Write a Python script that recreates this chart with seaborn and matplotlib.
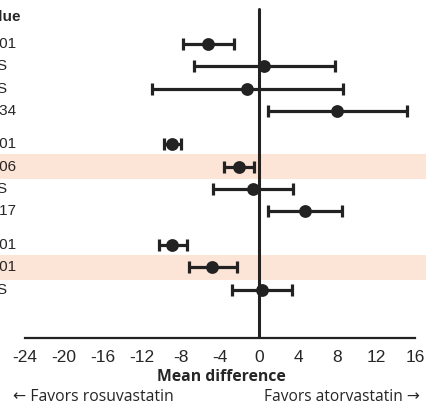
import numpy as np
import pandas as pd
import matplotlib as mpl
import matplotlib.pyplot as plt
import seaborn as sns

# rows top to bottom (gaps between groups are half a row)
row_pos = [0, 1, 2, 3, 4.5, 5.5, 6.5, 7.5, 9, 10, 11]
mean_diff = [-5.2, 0.5, -1.2, 8.0, -8.9, -2.05, -0.65, 4.7, -8.9, -4.8, 0.35]
ci_low = [-7.8, -6.7, -11.0, 0.95, -9.75, -3.6, -4.7, 0.95, -10.25, -7.2, -2.75]
ci_high = [-2.6, 7.75, 8.65, 15.15, -8.0, -0.5, 3.45, 8.55, -7.35, -2.3, 3.4]
p_values = ["0.001", "NS", "NS", "0.034", "0.001", "0.006", "NS", "0.017", "0.001", "0.001", "NS"]
shaded_rows = [5.5, 10]
xticks = [-24, -20, -16, -12, -8, -4, 0, 4, 8, 12, 16]

df = pd.DataFrame({"y": row_pos, "md": mean_diff, "lo": ci_low, "hi": ci_high})

sns.set_style("white")
plt.rcParams["font.family"] = ["Liberation Sans", "DejaVu Sans"]
dark = "#222222"

fig = plt.figure(figsize=(4.27, 4.05), dpi=100)
ax = fig.add_axes([0, 67 / 405, 1, 338 / 405])

for r in shaded_rows:
    ax.axhspan(r - 0.56, r + 0.56, color="#fce4d6", zorder=0, lw=0)

ax.axvline(0, ymin=0, ymax=0.973, color=dark, lw=2.2, zorder=1)

ax.errorbar(df["md"], df["y"], xerr=[df["md"] - df["lo"], df["hi"] - df["md"]],
            fmt="none", ecolor=dark, elinewidth=2.3, capsize=4.5, capthick=2.3, zorder=2)
sns.scatterplot(data=df, x="md", y="y", ax=ax, color=dark, s=85, edgecolor=dark,
                linewidth=0, zorder=3)

# p value column, mostly cut off by the left figure edge
ax.text(-27.2, -1.21, "P value", ha="center", va="center", fontsize=11,
        fontweight="bold", clip_on=False)
for y, p in zip(row_pos, p_values):
    ax.text(-26.85, y, p, ha="center", va="center", fontsize=11, clip_on=False)

ax.set_xlim(-24 - 25 / 9.75, 16 + 12 / 9.75)
ax.set_ylim(13.17, -1.97)
ax.set_xticks(xticks)
ax.set_xticklabels([str(t) for t in xticks], fontsize=12.5)
ax.set_yticks([])
for s in ["top", "right", "left"]:
    ax.spines[s].set_visible(False)
ax.spines["bottom"].set_bounds(-24, 16)
ax.spines["bottom"].set_linewidth(1.6)
ax.spines["bottom"].set_color(dark)
ax.tick_params(axis="x", direction="out", length=4, width=2.2, color=dark, pad=5)
ax.set_xlabel("")
ax.set_ylabel("")

fig.text(221 / 427, 1 - 377 / 405, "Mean difference", ha="center", va="center",
         fontsize=11.3, fontweight="bold", family=["Open Sans", "DejaVu Sans"])
fig.text(13 / 427, 1 - 397 / 405, "\u2190 Favors rosuvastatin", ha="left", va="center",
         fontsize=11.3, family=["Open Sans", "DejaVu Sans"])
fig.text(420 / 427, 1 - 397 / 405, "Favors atorvastatin \u2192", ha="right", va="center",
         fontsize=11.2, family=["Open Sans", "DejaVu Sans"])

fig.savefig("out.png", dpi=100)
